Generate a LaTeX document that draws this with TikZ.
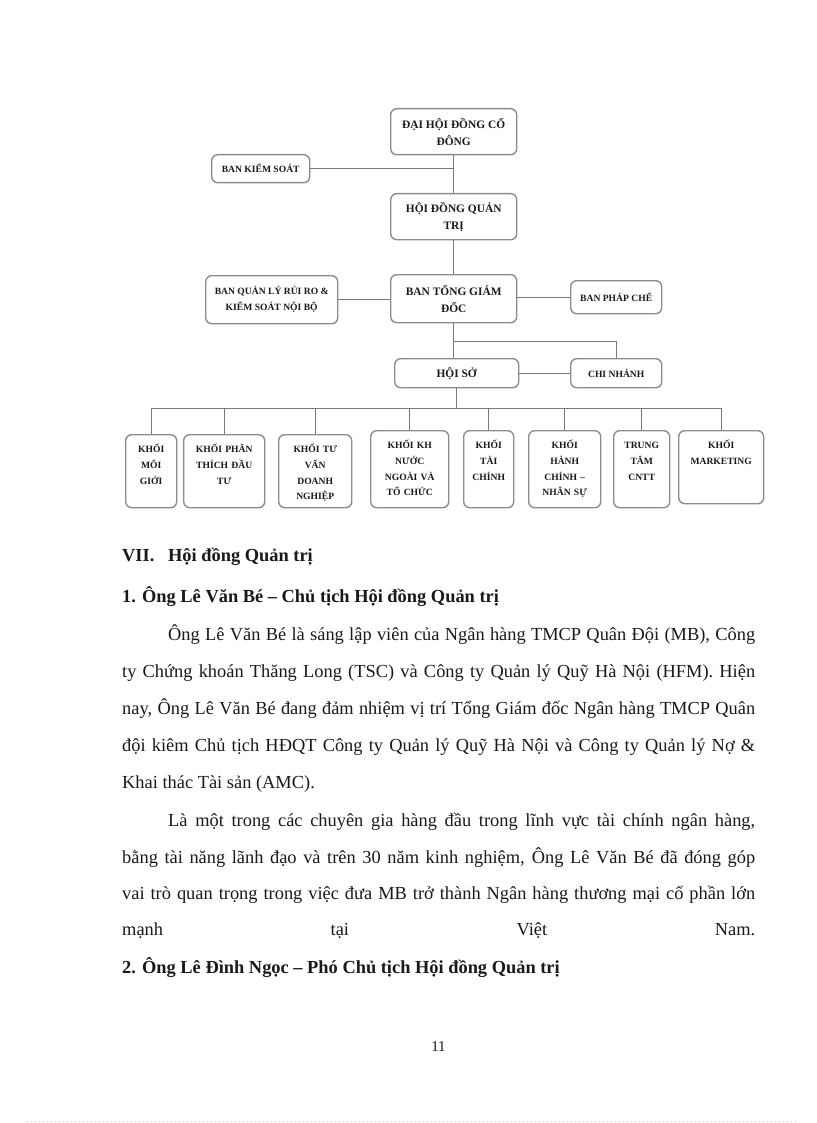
\documentclass[tikz,border=0pt]{standalone}
\usepackage{fontspec}
\setmainfont{Liberation Serif}
\usepackage{xcolor}

\definecolor{boxgray}{RGB}{140,140,140}
\definecolor{linegray}{RGB}{120,120,120}
\definecolor{ink}{RGB}{25,25,25}

\newcommand{\bigfont}{\bfseries\fontsize{11.4}{17}\selectfont}
\newcommand{\smallfont}{\bfseries\fontsize{9.6}{15.8}\selectfont}
\newcommand{\bodyfont}{\fontsize{18.4}{37}\selectfont}

\begin{document}
\begin{tikzpicture}[x=1pt,y=-1pt,
        box/.style={draw=boxgray, line width=1.4pt, rounded corners=6pt, anchor=north west, inner sep=1pt, align=center, text=ink},
        conn/.style={draw=linegray, line width=1.1pt},
        ktext/.style={anchor=base, inner sep=0pt, align=center, text=ink, font=\smallfont},
        txt/.style={anchor=base west, inner sep=0pt, text=ink, font=\bodyfont}]
        \useasboundingbox (0,0) rectangle (816,1123);

        % so do to chuc
        \node[box, minimum width=126pt, minimum height=46pt, font=\bigfont] (dhd) at (390,108) {ĐẠI HỘI ĐỒNG CỔ\\ĐÔNG};
        \node[box, minimum width=98pt, minimum height=28pt, font=\smallfont] (bks) at (211,154) {BAN KIỂM SOÁT};
        \node[box, minimum width=126pt, minimum height=46pt, font=\bigfont] (hdqt) at (390,193) {HỘI ĐỒNG QUẢN\\TRỊ};
        \node[box, minimum width=126pt, minimum height=48pt, font=\bigfont] (btgd) at (390,274) {BAN TỔNG GIÁM\\ĐỐC};
        \node[box, minimum width=132pt, minimum height=48pt, font=\smallfont] (bql) at (205,275) {BAN QUẢN LÝ RỦI RO \&\\KIỂM SOÁT NỘI BỘ};
        \node[box, minimum width=91pt, minimum height=33pt, font=\smallfont] (bpc) at (570,280) {BAN PHÁP CHẾ};
        \node[box, minimum width=124pt, minimum height=29pt, font=\bigfont] (hs) at (394,358) {HỘI SỞ};
        \node[box, minimum width=91pt, minimum height=29pt, font=\smallfont] (cn) at (570,358) {CHI NHÁNH};

        \draw[conn] (dhd.south) -- (hdqt.north);
        \draw[conn] (bks.east) -- (bks.east -| dhd.south);
        \draw[conn] (hdqt.south) -- (btgd.north);
        \draw[conn] (bql.east) -- (bql.east -| btgd.west);
        \draw[conn] (bpc.west) -- (bpc.west -| btgd.east);
        \draw[conn] (btgd.south) -- (btgd.south |- hs.north);
        \coordinate (split) at ([yshift=-18pt]btgd.south);
        \draw[conn] (split) -| (cn.north);
        \draw[conn] (hs.east) -- (cn.west);
        \coordinate (bus) at ([yshift=-20pt]hs.south);
        \draw[conn] (hs.south) -- (bus);

        \foreach \n/\x/\y/\w/\h/\lbl in {
                k1/125/434/51/73/{KHỐI\\MÔI\\GIỚI},
                k2/183/434/81/73/{KHỐI PHÂN\\THÍCH ĐẦU\\TƯ},
                k3/278/434/73/73/{KHỐI TƯ\\VẤN\\DOANH\\NGHIỆP},
                k4/370/430/78/77/{KHỐI KH\\NƯỚC\\NGOÀI VÀ\\TỔ CHỨC},
                k5/463/430/50/77/{KHỐI\\TÀI\\CHÍNH},
                k6/528/430/72/77/{KHỐI\\HÀNH\\CHÍNH –\\NHÂN SỰ},
                k7/613/430/56/77/{TRUNG\\TÂM\\CNTT},
                k8/678/430/85/73/{KHỐI\\MARKETING}} {
                \node[box, minimum width=\w pt, minimum height=\h pt] (\n) at (\x,\y) {};
                \node[ktext, text width=\w pt] (\n t) at ([yshift=-18.5pt]\n.north) {\lbl};
                \draw[conn] (bus) -| (\n.north);
            }

        % van ban
        \node[txt, font=\bodyfont\bfseries] (h0) at (122,561) {\makebox[46pt][l]{VII.}Hội đồng Quản trị};
        \node[txt, font=\bodyfont\bfseries] (h1) at (122,602) {1. Ông Lê Văn Bé – Chủ tịch Hội đồng Quản trị};
        \node[txt] (p1a) at (168,640) {\makebox[587pt][s]{Ông Lê Văn Bé là sáng lập viên của Ngân hàng TMCP Quân Đội (MB), Công}};
        \node[txt] (p1b) at (122,677) {\makebox[633pt][s]{ty Chứng khoán Thăng Long (TSC) và Công ty Quản lý Quỹ Hà Nội (HFM). Hiện}};
        \node[txt] (p1c) at (122,714) {\makebox[633pt][s]{nay, Ông Lê Văn Bé đang đảm nhiệm vị trí Tổng Giám đốc Ngân hàng TMCP Quân}};
        \node[txt] (p1d) at (122,751) {\makebox[633pt][s]{đội kiêm Chủ tịch HĐQT Công ty Quản lý Quỹ Hà Nội và Công ty Quản lý Nợ \&}};
        \node[txt] (p1e) at (122,788) {Khai thác Tài sản (AMC).};
        \node[txt] (p2a) at (168,826) {\makebox[587pt][s]{Là một trong các chuyên gia hàng đầu trong lĩnh vực tài chính ngân hàng,}};
        \node[txt] (p2b) at (122,863) {\makebox[633pt][s]{bằng tài năng lãnh đạo và trên 30 năm kinh nghiệm, Ông Lê Văn Bé đã đóng góp}};
        \node[txt] (p2c) at (122,899) {\makebox[633pt][s]{vai trò quan trọng trong việc đưa MB trở thành Ngân hàng thương mại cổ phần lớn}};
        \node[txt] (p2d) at (122,935) {\makebox[633pt][s]{mạnh tại Việt Nam.}};
        \node[txt, font=\bodyfont\bfseries] (h2) at (122,973) {2. Ông Lê Đình Ngọc – Phó Chủ tịch Hội đồng Quản trị};

        \node[txt, anchor=base, font=\fontsize{15}{18}\selectfont] (pg) at (438.5,1051) {11};
        \draw[gray!45, line width=0.8pt, dash pattern=on 1pt off 3pt] (27,1121.5) -- (796,1121.5);
    \end{tikzpicture}
\end{document}
